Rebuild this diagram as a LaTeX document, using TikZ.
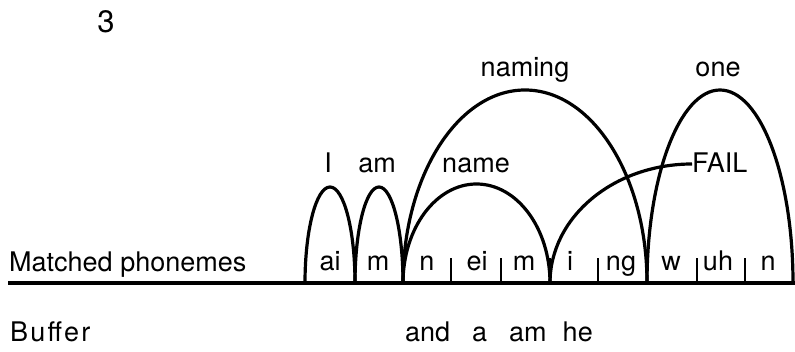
\documentclass[tikz,border=0pt]{standalone}
\usepackage{fontspec}
\setmainfont{TeX Gyre Heros}
\begin{document}
\begin{tikzpicture}[x=1pt,y=1pt,
  lbl/.style={anchor=base, inner sep=0pt, font=\fontsize{27}{30}\selectfont},
  archline/.style={line width=3.2pt},
  tickline/.style={line width=2.6pt},
  baseline/.style={line width=3.4pt}]
\useasboundingbox (0,0) rectangle (795,352);
% boundary coordinates on the baseline
\coordinate (L) at (8,69);
\coordinate (R) at (795,69);
\coordinate (b1) at (305,69);
\coordinate (b2) at (355,69);
\coordinate (b3) at (403,69);
\coordinate (b6) at (550,69);
\coordinate (b9) at (647,69);
\coordinate (t1) at (451,69);
\coordinate (t2) at (501,69);
\coordinate (t3) at (598,69);
\coordinate (t4) at (697,69);
\coordinate (t5) at (745,69);
% baseline
\draw[baseline] (L) -- (R);
% ticks
\foreach \c in {b1,b2,b3,b6,b9,t1,t2,t3,t4,t5}
  \draw[tickline] (\c) -- ++(0,25);
% arches
\draw[archline] (b1) arc[start angle=180,end angle=0,x radius=25,y radius=96];
\draw[archline] (b2) arc[start angle=180,end angle=0,x radius=24,y radius=96];
\draw[archline] (b3) arc[start angle=180,end angle=0,x radius=73.5,y radius=99];
\draw[archline] (b3) arc[start angle=180,end angle=0,x radius=122,y radius=193];
\draw[archline] (b9) arc[start angle=180,end angle=0,x radius=73,y radius=193];
% word labels
\node[lbl] (wI) at (328,179) {I};
\node[lbl] (wam) at (377,179) {am};
\node[lbl] (wname) at (476,179) {name};
\node[lbl] (wnaming) at (525,275) {naming};
\node[lbl] (wone) at (718,275) {one};
\node[lbl,anchor=base west] (fail) at (692,179) {FAIL};
% FAIL connector
\draw[archline] (b6) arc[start angle=180,end angle=90,x radius=142,y radius=119] -- (fail.west |- 0,188);
% phonemes
\node[lbl] (p1) at (330,81) {ai};
\node[lbl] (p2) at (378,81) {m};
\node[lbl] (p3) at (427,81) {n};
\node[lbl] (p4) at (477,81) {ei};
\node[lbl] (p5) at (524,81) {m};
\node[lbl] (p6) at (570,81) {i};
\node[lbl] (p7) at (621,81) {ng};
\node[lbl] (p8) at (671,81) {w};
\node[lbl] (p9) at (718,81) {uh};
\node[lbl] (p10) at (768,81) {n};
% row labels
\node[lbl,anchor=base west] (matched) at (9,80) {Matched phonemes};
\node[lbl,anchor=base west] (buffer) at (10,10) {\addfontfeatures{LetterSpace=8}Buffer};
\node[lbl,anchor=base west] (buf) at (405,10) {and\hspace{22pt}a\hspace{22pt}am\hspace{16pt}he};
\node[lbl,anchor=base,font=\fontsize{31}{34}\selectfont] (num) at (106,319) {3};
\end{tikzpicture}
\end{document}
